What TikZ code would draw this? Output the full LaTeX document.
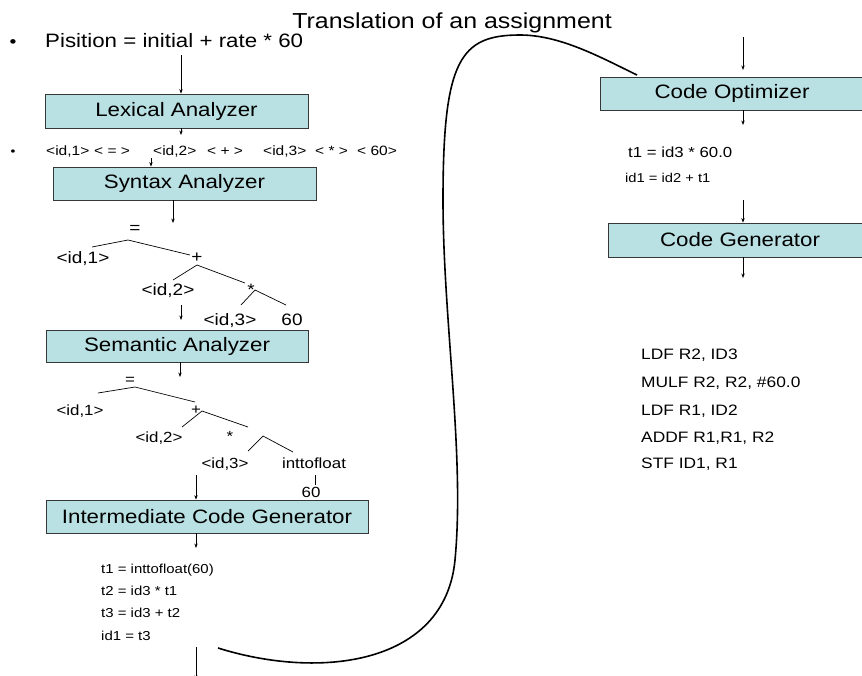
\documentclass[tikz,border=0pt]{standalone}
\usepackage{fontspec}
\setmainfont{Liberation Sans}[FakeStretch=1.15]
\usetikzlibrary{arrows.meta}
\definecolor{boxfill}{RGB}{185,224,226}
\definecolor{boxline}{RGB}{55,55,55}
\newcommand{\fs}[1]{\fontsize{#1}{#1}\selectfont}
\begin{document}
\begin{tikzpicture}[x=1pt,y=-1pt,
  stage/.style={draw=boxline, line width=0.8pt, fill=boxfill, inner sep=0pt, font=\fs{19.4}},
  lbl/.style={inner sep=0pt, anchor=base},
  lw/.style={inner sep=0pt, anchor=base west},
  arr/.style={line width=0.7pt, -{Stealth[length=4.5pt,width=3.4pt]}},
  branch/.style={line width=0.7pt},
]
\useasboundingbox (0,0) rectangle (862,675);

% heading and source statement
\node[lbl, font=\fs{21.7}] (title) at (452,28) {Translation of an assignment};
\node[lbl, font=\fs{17}] (b1) at (13,47) {\textbullet};
\node[lw, font=\fs{19.4}] (expr) at (45,47) {Pisition = initial + rate * 60};

% token stream
\node[lbl, font=\fs{12}] (b2) at (13,155) {\textbullet};
\begin{scope}[every node/.style={lw, font=\fs{13.5}}]
  \node (k1) at (46,155) {<id,1>};
  \node (k2) at (94,155) {< = >};
  \node (k3) at (153,155) {<id,2>};
  \node (k4) at (207,155) {< + >};
  \node (k5) at (263,155) {<id,3>};
  \node (k6) at (315,155) {< * >};
  \node (k7) at (357,155) {< 60>};
\end{scope}

% syntax tree
\begin{scope}[every node/.style={lbl, font=\fs{16.5}}]
  \node (s1) at (135,233) {=};
  \node (s2) at (83,263) {<id,1>};
  \node (s3) at (197,262) {+};
  \node (s4) at (168,295) {<id,2>};
  \node (s5) at (251,295) {*};
  \node (s6) at (230,325) {<id,3>};
  \node (s7) at (292,325) {60};
\end{scope}
\draw[branch] (92,247) -- (128,240) -- (190,255);
\draw[branch] (173,280) -- (197,265) -- (245,283);
\draw[branch] (241,305) -- (255,290) -- (286,305);

% annotated tree
\begin{scope}[every node/.style={lbl, font=\fs{14.7}}]
  \node (m1) at (130,384.5) {=};
  \node (m2) at (80,415) {<id,1>};
  \node (m3) at (196,414) {+};
  \node (m4) at (159,442) {<id,2>};
  \node (m5) at (230,441) {*};
  \node (m6) at (225,468) {<id,3>};
  \node (m7) at (314,468) {inttofloat};
  \node (m8) at (311,497) {60};
\end{scope}
\draw[branch] (98,393) -- (135,387) -- (195,402);
\draw[branch] (182,427) -- (202,411) -- (248,427);
\draw[branch] (248,451) -- (263,436) -- (293,452);
\draw[branch] (315,475) -- (315,485);

% three-address code
\begin{scope}[every node/.style={lw, font=\fs{13}}]
  \node (c1) at (101,573) {t1 = inttofloat(60)};
  \node (c2) at (101,595) {t2 = id3 * t1};
  \node (c3) at (101,617) {t3 = id3 + t2};
  \node (c4) at (101,640) {id1 = t3};
\end{scope}

% optimized code
\node[lw, font=\fs{14.6}] (o1) at (628,157) {t1 = id3 * 60.0};
\node[lw, font=\fs{12.8}] (o2) at (625,182) {id1 = id2 + t1};

% target code
\begin{scope}[every node/.style={lw, font=\fs{15.1}}]
  \node (a1) at (641,359) {LDF R2, ID3};
  \node (a2) at (641,387) {MULF R2, R2, \#60.0};
  \node (a3) at (641,415) {LDF R1, ID2};
  \node (a4) at (641,442) {ADDF R1,R1, R2};
  \node (a5) at (641,468) {STF ID1, R1};
\end{scope}

% compiler phases
\node[stage, minimum width=263pt, minimum height=34pt] (lex) at (176.5,111) {Lexical Analyzer};
\node[stage, minimum width=263pt, minimum height=33pt] (syn) at (184.5,183.5) {Syntax Analyzer};
\node[stage, minimum width=262pt, minimum height=32pt] (sem) at (177,346) {Semantic Analyzer};
\node[stage, minimum width=322pt, minimum height=33pt] (icg) at (207,516.5) {Intermediate Code Generator};
\node[stage, minimum width=264pt, minimum height=33pt] (opt) at (732,93.5) {Code Optimizer};
\node[stage, minimum width=264pt, minimum height=34pt] (gen) at (740,240) {Code Generator};

% flow arrows
\coordinate (xa) at (181,0);
\coordinate (xb) at (151,0);
\coordinate (xc) at (173,0);
\coordinate (xd) at (180,0);
\coordinate (xe) at (196,0);
\coordinate (xr) at (743,0);
\draw[arr] (xa |- 0,55) -- (lex.north -| xa);
\draw[arr] (lex.south -| xa) -- (xa |- 0,135);
\draw[arr] (xb |- 0,158) -- (syn.north -| xb);
\draw[arr] (syn.south -| xc) -- (xc |- 0,223);
\draw[arr] (xa |- 0,305) -- (xa |- 0,320);
\draw[arr] (sem.south -| xd) -- (xd |- 0,377);
\draw[arr] (xe |- 0,475) -- (icg.north -| xe);
\draw[arr] (icg.south -| xe) -- (xe |- 0,548);
\draw[arr] (xe |- 0,647) -- (xe |- 0,680);
\draw[arr] (xr |- 0,37) -- (xr |- 0,70);
\draw[arr] (opt.south -| xr) -- (xr |- 0,125);
\draw[arr] (xr |- 0,200) -- (gen.north -| xr);
\draw[arr] (gen.south -| xr) -- (xr |- 0,278);

% continuation from the left column to the right column
\coordinate (cs) at (218,648);
\coordinate (ce) at (637,75);
\draw[line width=1.6pt] (cs) .. controls (320,680) and (445,665) .. (455,560)
  .. controls (465,455) and (443,320) .. (443,200)
  .. controls (443,60) and (460,35) .. (520,35)
  .. controls (560,35) and (600,57) .. (ce);
\end{tikzpicture}
\end{document}
